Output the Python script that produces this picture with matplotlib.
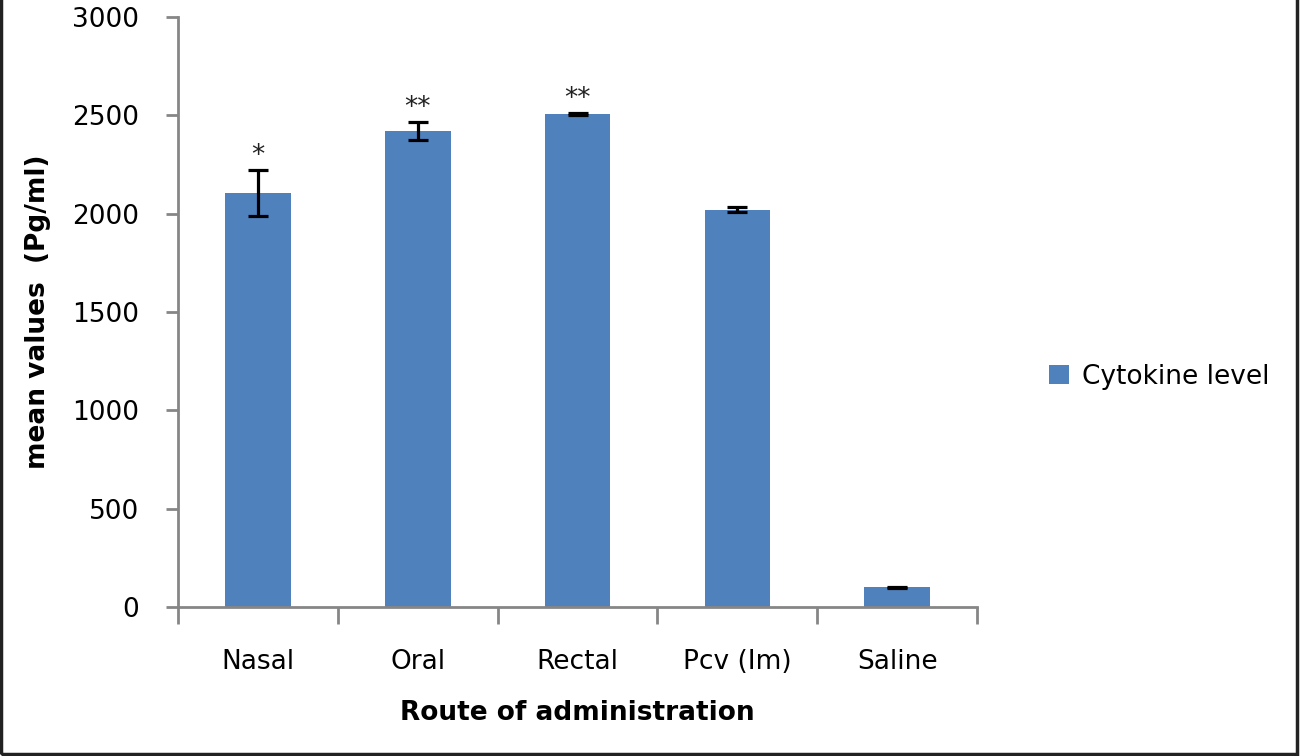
import matplotlib
matplotlib.use('Agg')
import matplotlib.pyplot as plt
from matplotlib.patches import Rectangle

# data
routes = ['Nasal', 'Oral', 'Rectal', 'Pcv (Im)', 'Saline']
cytokine = [2105, 2420, 2505, 2020, 100]
err = [115, 45, 5, 12, 3]
signif = ['*', '**', '**', '', '']

plt.rcParams['font.family'] = ['DejaVu Sans']
grey = '#868686'
fs = 19

fig = plt.figure(figsize=(13, 7.56), dpi=100)
ax = fig.add_axes([0.137, 0.197, 0.6146, 0.7804])

x = range(len(routes))
ax.bar(x, cytokine, width=0.41, color='#4F81BD', label='Cytokine level',
       yerr=err, capsize=7, error_kw=dict(ecolor='black', elinewidth=2.3, capthick=2.3))

for xi, v, e, s in zip(x, cytokine, err, signif):
    if s:
        ax.text(xi, v + e + 5, s, ha='center', va='bottom', fontsize=fs, color='#222222')

ax.set_xlim(-0.5, len(routes) - 0.5)
ax.set_ylim(0, 3000)
ax.set_yticks(range(0, 3001, 500))
ax.set_xticks([i - 0.5 for i in range(len(routes) + 1)])
ax.set_xticklabels([])
ax.set_xticks(list(x), minor=True)
ax.set_xticklabels(routes, minor=True)
ax.tick_params(axis='x', which='major', length=12, width=2, color=grey, direction='out')
ax.tick_params(axis='x', which='minor', length=0, pad=30, labelsize=fs)
ax.tick_params(axis='y', length=9, width=2, color=grey, pad=19, labelsize=fs)

for side in ['top', 'right']:
    ax.spines[side].set_visible(False)
for side in ['left', 'bottom']:
    ax.spines[side].set_color(grey)
    ax.spines[side].set_linewidth(2)

ax.set_ylabel('mean values  (Pg/ml)', fontsize=fs, fontweight='bold', labelpad=15)
ax.set_xlabel('Route of administration', fontsize=fs, fontweight='bold', labelpad=18)

ax.legend(loc='center left', bbox_to_anchor=(1.06, 0.39), frameon=False, fontsize=fs,
          handlelength=0.75, handleheight=0.75, handletextpad=0.5)

# outer frame of the picture
fig.patches.append(Rectangle((0.001, 0.003), 0.997, 1.1, transform=fig.transFigure,
                             fill=False, edgecolor='#222222', linewidth=2.5))

fig.savefig('out.png', dpi=100)
